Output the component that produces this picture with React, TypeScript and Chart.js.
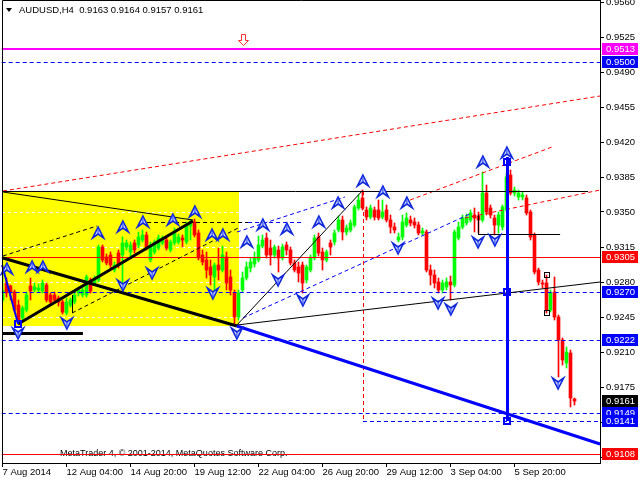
import React, { useEffect, useRef } from 'react';
import { Chart, registerables } from 'chart.js';
Chart.register(...registerables);

// ---------------- data (AUDUSD H4) ----------------
const openP = [
  0.9262, 0.9279, 0.9276, 0.9270, 0.9257, 0.9244, 0.9252, 0.9276, 0.9272, 0.9272,
  0.9271, 0.9277, 0.9267, 0.9267, 0.9264, 0.9260, 0.9249, 0.9257, 0.9260, 0.9269,
  0.9267, 0.9267, 0.9282, 0.9279, 0.9282, 0.9315, 0.9305, 0.9307, 0.9292, 0.9309,
  0.9307, 0.9315, 0.9310, 0.9319, 0.9317, 0.9322, 0.9327, 0.9302, 0.9310, 0.9314,
  0.9319, 0.9322, 0.9312, 0.9319, 0.9320, 0.9324, 0.9320, 0.9336, 0.9340, 0.9329,
  0.9307, 0.9302, 0.9295, 0.9285, 0.9297, 0.9292, 0.9305, 0.9285, 0.9269, 0.9245,
  0.9272, 0.9284, 0.9294, 0.9298, 0.9302, 0.9316, 0.9324, 0.9314, 0.9307, 0.9312,
  0.9304, 0.9317, 0.9312, 0.9299, 0.9295, 0.9297, 0.9282, 0.9292, 0.9304, 0.9325,
  0.9310, 0.9302, 0.9319, 0.9320, 0.9332, 0.9342, 0.9330, 0.9332, 0.9337, 0.9354,
  0.9364, 0.9352, 0.9345, 0.9352, 0.9352, 0.9345, 0.9352, 0.9342, 0.9335, 0.9322,
  0.9325, 0.9337, 0.9342, 0.9340, 0.9337, 0.9329, 0.9330, 0.9292, 0.9287, 0.9280,
  0.9272, 0.9275, 0.9280, 0.9277, 0.9324, 0.9335, 0.9339, 0.9342, 0.9347, 0.9346,
  0.9342, 0.9369, 0.9354, 0.9344, 0.9337, 0.9335, 0.9352, 0.9387, 0.9369, 0.9365,
  0.9365, 0.9364, 0.9350, 0.9327, 0.9292, 0.9279, 0.9279, 0.9252, 0.9270, 0.9245,
  0.9222, 0.9199, 0.9209, 0.9163,
];
const highP = [
  0.9297, 0.9284, 0.9277, 0.9272, 0.9262, 0.9256, 0.9270, 0.9284, 0.9279, 0.9278,
  0.9282, 0.9279, 0.9269, 0.9270, 0.9266, 0.9262, 0.9264, 0.9264, 0.9270, 0.9275,
  0.9276, 0.9287, 0.9284, 0.9286, 0.9317, 0.9317, 0.9308, 0.9310, 0.9300, 0.9312,
  0.9325, 0.9322, 0.9320, 0.9322, 0.9330, 0.9332, 0.9330, 0.9320, 0.9322, 0.9327,
  0.9326, 0.9325, 0.9322, 0.9334, 0.9328, 0.9327, 0.9340, 0.9342, 0.9343, 0.9332,
  0.9312, 0.9310, 0.9302, 0.9299, 0.9314, 0.9316, 0.9310, 0.9292, 0.9272, 0.9272,
  0.9290, 0.9300, 0.9304, 0.9310, 0.9326, 0.9327, 0.9329, 0.9322, 0.9317, 0.9316,
  0.9318, 0.9320, 0.9315, 0.9302, 0.9300, 0.9300, 0.9297, 0.9307, 0.9327, 0.9329,
  0.9314, 0.9312, 0.9322, 0.9332, 0.9346, 0.9346, 0.9337, 0.9342, 0.9357, 0.9367,
  0.9372, 0.9355, 0.9357, 0.9355, 0.9362, 0.9362, 0.9357, 0.9347, 0.9339, 0.9329,
  0.9347, 0.9349, 0.9346, 0.9344, 0.9340, 0.9334, 0.9332, 0.9297, 0.9292, 0.9284,
  0.9282, 0.9284, 0.9286, 0.9332, 0.9340, 0.9347, 0.9348, 0.9352, 0.9354, 0.9350,
  0.9390, 0.9377, 0.9357, 0.9347, 0.9350, 0.9357, 0.9389, 0.9392, 0.9375, 0.9372,
  0.9370, 0.9367, 0.9352, 0.9329, 0.9294, 0.9282, 0.9287, 0.9272, 0.9285, 0.9247,
  0.9224, 0.9215, 0.9212, 0.9164,
];
const lowP = [
  0.9260, 0.9265, 0.9262, 0.9250, 0.9238, 0.9242, 0.9250, 0.9262, 0.9270, 0.9270,
  0.9269, 0.9260, 0.9257, 0.9259, 0.9256, 0.9248, 0.9247, 0.9255, 0.9258, 0.9266,
  0.9265, 0.9265, 0.9269, 0.9277, 0.9280, 0.9300, 0.9297, 0.9294, 0.9290, 0.9294,
  0.9275, 0.9312, 0.9306, 0.9309, 0.9314, 0.9320, 0.9312, 0.9300, 0.9308, 0.9312,
  0.9317, 0.9312, 0.9310, 0.9317, 0.9318, 0.9315, 0.9318, 0.9322, 0.9325, 0.9302,
  0.9297, 0.9284, 0.9277, 0.9272, 0.9282, 0.9290, 0.9272, 0.9267, 0.9237, 0.9242,
  0.9270, 0.9282, 0.9290, 0.9295, 0.9300, 0.9314, 0.9304, 0.9297, 0.9304, 0.9290,
  0.9302, 0.9307, 0.9297, 0.9290, 0.9280, 0.9269, 0.9279, 0.9290, 0.9302, 0.9306,
  0.9292, 0.9300, 0.9307, 0.9317, 0.9330, 0.9322, 0.9327, 0.9330, 0.9335, 0.9352,
  0.9352, 0.9342, 0.9343, 0.9342, 0.9342, 0.9343, 0.9340, 0.9329, 0.9329, 0.9320,
  0.9322, 0.9335, 0.9336, 0.9334, 0.9327, 0.9327, 0.9290, 0.9277, 0.9274, 0.9269,
  0.9269, 0.9272, 0.9262, 0.9275, 0.9322, 0.9333, 0.9337, 0.9340, 0.9330, 0.9329,
  0.9340, 0.9347, 0.9344, 0.9327, 0.9329, 0.9332, 0.9350, 0.9367, 0.9366, 0.9362,
  0.9362, 0.9347, 0.9322, 0.9288, 0.9277, 0.9274, 0.9249, 0.9250, 0.9242, 0.9185,
  0.9197, 0.9194, 0.9155, 0.9157,
];
const closeP = [
  0.9272, 0.9269, 0.9270, 0.9252, 0.9242, 0.9254, 0.9267, 0.9271, 0.9275, 0.9274,
  0.9279, 0.9262, 0.9260, 0.9262, 0.9260, 0.9250, 0.9260, 0.9262, 0.9267, 0.9272,
  0.9272, 0.9285, 0.9271, 0.9282, 0.9315, 0.9302, 0.9299, 0.9297, 0.9297, 0.9297,
  0.9319, 0.9319, 0.9317, 0.9312, 0.9325, 0.9327, 0.9314, 0.9317, 0.9320, 0.9324,
  0.9324, 0.9314, 0.9320, 0.9329, 0.9325, 0.9322, 0.9337, 0.9340, 0.9327, 0.9304,
  0.9300, 0.9292, 0.9287, 0.9297, 0.9292, 0.9307, 0.9279, 0.9272, 0.9245, 0.9269,
  0.9284, 0.9295, 0.9300, 0.9304, 0.9317, 0.9322, 0.9307, 0.9307, 0.9315, 0.9304,
  0.9315, 0.9312, 0.9299, 0.9292, 0.9289, 0.9279, 0.9295, 0.9304, 0.9324, 0.9309,
  0.9302, 0.9310, 0.9315, 0.9329, 0.9342, 0.9330, 0.9334, 0.9339, 0.9355, 0.9362,
  0.9354, 0.9345, 0.9354, 0.9345, 0.9344, 0.9350, 0.9342, 0.9335, 0.9332, 0.9325,
  0.9340, 0.9344, 0.9339, 0.9337, 0.9329, 0.9331, 0.9292, 0.9287, 0.9279, 0.9272,
  0.9279, 0.9280, 0.9277, 0.9330, 0.9335, 0.9344, 0.9345, 0.9349, 0.9344, 0.9342,
  0.9369, 0.9350, 0.9347, 0.9337, 0.9347, 0.9355, 0.9385, 0.9369, 0.9372, 0.9369,
  0.9367, 0.9349, 0.9325, 0.9290, 0.9280, 0.9278, 0.9252, 0.9269, 0.9245, 0.9222,
  0.9202, 0.9210, 0.9164, 0.9161,
];

const xTickIdx = [0, 16, 32, 48, 64, 80, 96, 112, 128];
const xTickLabels = ['7 Aug 2014', '12 Aug 04:00', '14 Aug 20:00', '19 Aug 12:00', '22 Aug 04:00', '26 Aug 20:00', '29 Aug 12:00', '3 Sep 04:00', '5 Sep 20:00'];
const yTicks = [0.9560, 0.9525, 0.9490, 0.9455, 0.9420, 0.9385, 0.9350, 0.9315, 0.9280, 0.9245, 0.9210, 0.9175, 0.9140, 0.9105];

const titleText = 'AUDUSD,H4  0.9163 0.9164 0.9157 0.9161';
const copyrightText = 'MetaTrader 4, \u00A9 2001-2014, MetaQuotes Software Corp.';

// price levels (value) and their label colours
const levelPrices = [0.9513, 0.9500, 0.9305, 0.9270, 0.9222, 0.9161, 0.9149, 0.9141, 0.9108];
const levelKinds = ['magenta', 'blue', 'red', 'blue', 'blue', 'black', 'blue', 'blue', 'red'];

// annotation objects in data coordinates: [barIndex1, price1, barIndex2, price2]
const rectYellow = [-0.2, 0.9370, 59.1, 0.9236];
const thinBlack = [
  [0.1, 0.9370, 47.6, 0.9342],
  [0.1, 0.9371, 146.4, 0.9371],
  [58.6, 0.9237, 149.4, 0.9280],
  [58.6, 0.9237, 89.9, 0.9371],
  [118.9, 0.9328, 139.4, 0.9328],
  [118.9, 0.9347, 118.9, 0.9328],
  [17.4, 0.9267, 17.4, 0.9249],
];
const thickBlack = [
  [0.1, 0.9304, 58.6, 0.9236],
  [3.9, 0.9238, 47.6, 0.9341],
  [0.1, 0.9229, 20.1, 0.9229],
];
const thickBlue = [
  [58.6, 0.9236, 149.4, 0.9118],
  [126.1, 0.9405, 126.1, 0.9141],
];
const zigzagBlue = [[-0.1, 0.9297, 3.9, 0.9238]];
const dashedBlack = [
  [0.1, 0.9306, 23.6, 0.9336],
  [17.4, 0.9249, 59.4, 0.9335],
  [34.4, 0.9340, 61.4, 0.9340],
];
const dashedBlue = [
  [61.4, 0.9340, 75.1, 0.9340],
  [58.6, 0.9330, 85.6, 0.9365],
  [60.1, 0.9244, 117.4, 0.9349],
  [-0.2, 0.9500, 149.4, 0.9500],
  [-0.2, 0.9270, 149.4, 0.9270],
  [-0.2, 0.9222, 149.4, 0.9222],
  [-0.2, 0.9149, 149.4, 0.9149],
  [90.1, 0.9141, 149.4, 0.9141],
];
const dashedRed = [
  [0.1, 0.9371, 149.4, 0.9466],
  [101.9, 0.9362, 137.4, 0.9415],
  [115.6, 0.9344, 149.4, 0.9372],
  [90.1, 0.9371, 90.1, 0.9141],
];
const solidRed = [
  [-0.2, 0.9305, 149.4, 0.9305],
  [-0.2, 0.9108, 149.4, 0.9108],
];
const solidMagenta = [[-0.2, 0.9513, 149.4, 0.9513]];

const upArrows = [
  [1.1, 0.9293], [7.4, 0.9295], [10.1, 0.9295], [23.9, 0.9329], [30.1, 0.9335], [35.1, 0.9340],
  [42.6, 0.9342], [48.1, 0.9350], [52.4, 0.9327], [55.1, 0.9327], [61.1, 0.9320], [65.1, 0.9337],
  [71.1, 0.9333], [79.1, 0.9340], [83.9, 0.9359], [90.1, 0.9381], [95.1, 0.9370], [101.1, 0.9359],
  [120.1, 0.9400], [126.1, 0.9409],
];
const downArrows = [
  [3.9, 0.9229], [16.1, 0.9239], [30.1, 0.9277], [37.4, 0.9289], [52.6, 0.9269], [58.6, 0.9229],
  [68.9, 0.9282], [75.1, 0.9262], [98.9, 0.9314], [108.9, 0.9259], [112.1, 0.9253], [118.9, 0.9320],
  [123.1, 0.9322], [138.9, 0.9179],
];
const blueSquares = [[3.9, 0.9238], [126.1, 0.9400], [126.1, 0.9270], [126.1, 0.9141]];
const blackSquares = [[136.1, 0.9287], [136.1, 0.9249]];
const redHollowArrow = [60.1, 0.9522];

// ---------------- styles ----------------
const GREEN = '#00ff00';
const RED = '#ff0000';
const FONT = 'Liberation Sans';
const FONT_SIZE = 9.5;
const kindColor: Record<string, string> = { magenta: '#ff00ff', blue: '#0000ff', red: '#ff0000', black: '#000000' };

function seg(ctx: CanvasRenderingContext2D, chart: any, l: number[], color: string, width: number, dash: number[]) {
  const xs = chart.scales.x, ys = chart.scales.y;
  let x1 = xs.getPixelForValue(l[0]), y1 = ys.getPixelForValue(l[1]);
  let x2 = xs.getPixelForValue(l[2]), y2 = ys.getPixelForValue(l[3]);
  const odd = width % 2 === 1 ? 0.5 : 0;
  if (Math.abs(y1 - y2) < 0.01) { y1 = y2 = Math.round(y1) + odd; }
  if (Math.abs(x1 - x2) < 0.01) { x1 = x2 = Math.round(x1) + odd; }
  ctx.save();
  ctx.strokeStyle = color;
  ctx.lineWidth = width;
  ctx.setLineDash(dash);
  ctx.beginPath();
  ctx.moveTo(x1, y1);
  ctx.lineTo(x2, y2);
  ctx.stroke();
  ctx.restore();
}

function arrow(ctx: CanvasRenderingContext2D, cx: number, cy: number, up: boolean) {
  const s = up ? 1 : -1;
  ctx.save();
  ctx.beginPath();
  ctx.moveTo(cx, cy - 6 * s);
  ctx.lineTo(cx + 5.5, cy + 5 * s);
  ctx.lineTo(cx, cy + 1 * s);
  ctx.lineTo(cx - 5.5, cy + 5 * s);
  ctx.closePath();
  ctx.fillStyle = '#c8d0ff';
  ctx.fill();
  ctx.lineWidth = 1.6;
  ctx.strokeStyle = '#1028d8';
  ctx.stroke();
  ctx.beginPath();
  ctx.moveTo(cx, cy - 5 * s);
  ctx.lineTo(cx, cy + 1 * s);
  ctx.strokeStyle = '#2040ff';
  ctx.lineWidth = 1;
  ctx.stroke();
  ctx.restore();
}

const overlay = {
  id: 'overlay',
  beforeDraw(chart: any) {
    const { ctx, chartArea: a } = chart;
    const xs = chart.scales.x, ys = chart.scales.y;
    ctx.save();
    ctx.fillStyle = '#ffffff';
    ctx.fillRect(0, 0, chart.width, chart.height);
    const x1 = Math.round(xs.getPixelForValue(rectYellow[0]));
    const x2 = Math.round(xs.getPixelForValue(rectYellow[2]));
    const y1 = Math.round(ys.getPixelForValue(rectYellow[1]));
    const y2 = Math.round(ys.getPixelForValue(rectYellow[3]));
    ctx.fillStyle = '#ffff00';
    ctx.fillRect(Math.max(x1, a.left), y1, x2 - Math.max(x1, a.left), y2 - y1);
    ctx.restore();
  },
  beforeDatasetsDraw(chart: any) {
    const { ctx, chartArea: a } = chart;
    const ys = chart.scales.y;
    ctx.save();
    ctx.strokeStyle = '#ffffff';
    ctx.lineWidth = 1;
    ctx.setLineDash([3, 3]);
    yTicks.forEach((v) => {
      const y = Math.round(ys.getPixelForValue(v)) + 0.5;
      ctx.beginPath();
      ctx.moveTo(a.left, y);
      ctx.lineTo(a.right, y);
      ctx.stroke();
    });
    ctx.setLineDash([]);
    ctx.fillStyle = '#000';
    ctx.font = `9px ${FONT}`;
    ctx.textBaseline = 'middle';
    ctx.fillText(copyrightText, a.left + 58, a.bottom - 9);
    ctx.restore();
  },
  afterDatasetsDraw(chart: any) {
    const { ctx } = chart;
    const xs = chart.scales.x, ys = chart.scales.y;
    solidMagenta.forEach((l) => seg(ctx, chart, l, '#ff00ff', 2, []));
    solidRed.forEach((l) => seg(ctx, chart, l, '#ff0000', 1, []));
    dashedBlue.forEach((l) => seg(ctx, chart, l, '#0000ff', 1, [4, 3]));
    dashedRed.forEach((l) => seg(ctx, chart, l, '#ff0000', 1, [4, 3]));
    dashedBlack.forEach((l) => seg(ctx, chart, l, '#000000', 1, [4, 3]));
    thinBlack.forEach((l) => seg(ctx, chart, l, '#000000', 1, []));
    thickBlack.forEach((l) => seg(ctx, chart, l, '#000000', 3, []));
    thickBlue.forEach((l) => seg(ctx, chart, l, '#0000ff', 3, []));
    zigzagBlue.forEach((l) => seg(ctx, chart, l, '#0000ff', 2, []));
    upArrows.forEach((p) => arrow(ctx, xs.getPixelForValue(p[0]), ys.getPixelForValue(p[1]), true));
    downArrows.forEach((p) => arrow(ctx, xs.getPixelForValue(p[0]), ys.getPixelForValue(p[1]), false));
    ctx.save();
    ctx.lineWidth = 2;
    ctx.strokeStyle = '#0000ff';
    blueSquares.forEach((p) => {
      const x = Math.round(xs.getPixelForValue(p[0])), y = Math.round(ys.getPixelForValue(p[1]));
      ctx.strokeRect(x - 3, y - 3, 6, 6);
    });
    ctx.lineWidth = 1;
    ctx.strokeStyle = '#000000';
    blackSquares.forEach((p) => {
      const x = Math.round(xs.getPixelForValue(p[0])), y = Math.round(ys.getPixelForValue(p[1]));
      ctx.strokeRect(x - 2.5, y - 2.5, 5, 5);
    });
    const cx = Math.round(xs.getPixelForValue(redHollowArrow[0])) + 0.5;
    const cy = Math.round(ys.getPixelForValue(redHollowArrow[1])) + 0.5;
    ctx.beginPath();
    ctx.moveTo(cx - 2, cy - 6);
    ctx.lineTo(cx + 2, cy - 6);
    ctx.lineTo(cx + 2, cy);
    ctx.lineTo(cx + 5, cy);
    ctx.lineTo(cx, cy + 5);
    ctx.lineTo(cx - 5, cy);
    ctx.lineTo(cx - 2, cy);
    ctx.closePath();
    ctx.fillStyle = '#ffffff';
    ctx.fill();
    ctx.strokeStyle = '#ff3030';
    ctx.stroke();
    ctx.restore();
  },
  afterDraw(chart: any) {
    const { ctx, chartArea: a } = chart;
    const ys = chart.scales.y;
    ctx.save();
    ctx.strokeStyle = '#000';
    ctx.lineWidth = 1;
    ctx.beginPath();
    ctx.moveTo(a.left + 0.5, a.bottom);
    ctx.lineTo(a.left + 0.5, a.top + 0.5);
    ctx.lineTo(a.right, a.top + 0.5);
    ctx.stroke();
    ctx.font = `${FONT_SIZE}px ${FONT}`;
    ctx.textBaseline = 'middle';
    levelPrices.forEach((v, k) => {
      const y = Math.round(ys.getPixelForValue(v));
      ctx.fillStyle = kindColor[levelKinds[k]];
      ctx.fillRect(a.right + 2, y - 6, 36, 12);
      ctx.fillStyle = '#ffffff';
      ctx.fillText(v.toFixed(4), a.right + 6, y + 0.5);
    });
    ctx.fillStyle = '#000';
    ctx.beginPath();
    ctx.moveTo(a.left + 4, 8);
    ctx.lineTo(a.left + 10, 8);
    ctx.lineTo(a.left + 7, 12);
    ctx.closePath();
    ctx.fill();
    ctx.fillText(titleText, a.left + 17, 10);
    ctx.restore();
  },
};

const candleIdx = openP.map((_, i) => i);
const colorOf = (i: number) => (closeP[i] >= openP[i] ? GREEN : RED);

export default function App() {
  const ref = useRef<HTMLCanvasElement>(null);
  useEffect(() => {
    const font = { family: FONT, size: FONT_SIZE };
    const chart = new Chart(ref.current as HTMLCanvasElement, {
      type: 'bar',
      data: {
        datasets: [
          {
            data: candleIdx.map((i) => ({ x: i, y: [lowP[i], highP[i]] })) as any,
            backgroundColor: (c: any) => colorOf(c.dataIndex),
            barThickness: 1,
            grouped: false,
            borderWidth: 0,
          } as any,
          {
            data: candleIdx.map((i) => ({ x: i, y: [openP[i], closeP[i]] })) as any,
            backgroundColor: (c: any) => colorOf(c.dataIndex),
            barThickness: 3,
            grouped: false,
            borderWidth: 0,
            minBarLength: 1,
          } as any,
        ],
      },
      options: {
        animation: false,
        responsive: false,
        maintainAspectRatio: false,
        layout: { padding: { left: 2, top: 0, right: 0, bottom: 0 } },
        plugins: { legend: { display: false }, tooltip: { enabled: false } },
        scales: {
          x: {
            type: 'linear',
            offset: false,
            min: -0.125,
            max: 149.375,
            position: 'bottom',
            afterBuildTicks: (s: any) => { s.ticks = xTickIdx.map((v) => ({ value: v })); },
            afterFit: (s: any) => { s.height = 17; s.paddingLeft = 0; s.paddingRight = 0; },
            ticks: {
              autoSkip: false, maxRotation: 0, minRotation: 0, align: 'start', padding: 0, color: '#000', font,
              callback: (v: any) => { const k = xTickIdx.indexOf(Number(v)); return k >= 0 ? xTickLabels[k] : ''; },
            },
            grid: { drawOnChartArea: false, drawTicks: true, tickLength: 4, color: '#000', tickColor: '#000', offset: false },
            border: { display: true, color: '#000', width: 1 },
          },
          y: {
            type: 'linear',
            position: 'right',
            min: 0.9099,
            max: 0.9562,
            afterBuildTicks: (s: any) => { s.ticks = yTicks.map((v) => ({ value: v })); },
            afterFit: (s: any) => { s.width = 40; s.paddingTop = 0; s.paddingBottom = 0; },
            ticks: { autoSkip: false, padding: 2, color: '#000', font, callback: (v: any) => Number(v).toFixed(4) },
            grid: { drawOnChartArea: false, drawTicks: true, tickLength: 4, color: '#000', tickColor: '#000' },
            border: { display: true, color: '#000', width: 1 },
          },
        },
      } as any,
      plugins: [overlay],
    });
    return () => chart.destroy();
  }, []);
  return (
    <div style={{ position: 'absolute', left: 0, top: 0, width: 640, height: 480 }}>
      <canvas ref={ref} width={640} height={480} style={{ display: 'block' }} />
    </div>
  );
}
